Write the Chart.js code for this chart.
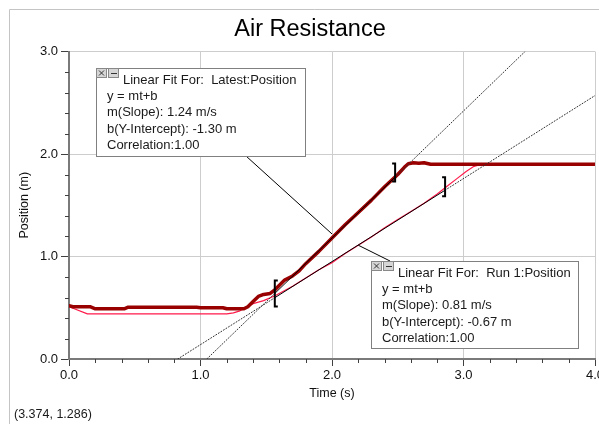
<!DOCTYPE html>
<html>
<head>
<meta charset="utf-8">
<script src="https://cdn.jsdelivr.net/npm/chart.js@4.4.1/dist/chart.umd.min.js"></script>
<style>
    html, body { margin: 0; padding: 0; background: #fff; overflow: hidden; }
    #graph { display: block; }
</style>
</head>
<body>
<canvas id="graph" width="620" height="424"></canvas>
<script>
// Latest run (dark red, thick)
const latestTime = [0.00, 0.03, 0.16, 0.20, 0.42, 0.45, 0.97, 1.00, 1.17, 1.20, 1.33, 1.36, 1.40, 1.44, 1.48, 1.53, 1.57, 1.60, 1.64, 1.70, 1.75, 1.80, 1.90, 2.00, 2.10, 2.20, 2.30, 2.40, 2.50, 2.55, 2.58, 2.62, 2.66, 2.70, 2.75, 3.00, 3.50, 4.00];
const latestPos = [0.52, 0.51, 0.51, 0.49, 0.49, 0.505, 0.505, 0.50, 0.50, 0.49, 0.49, 0.51, 0.56, 0.61, 0.63, 0.64, 0.68, 0.72, 0.77, 0.81, 0.86, 0.93, 1.05, 1.18, 1.31, 1.43, 1.55, 1.68, 1.80, 1.87, 1.905, 1.915, 1.91, 1.915, 1.90, 1.90, 1.90, 1.90];

// Run 1 (red, thin)
const runTime = [0.00, 0.14, 0.50, 1.00, 1.20, 1.25, 1.30, 1.34, 1.40, 1.48, 1.57, 1.70, 1.80, 1.90, 2.00, 2.10, 2.20, 2.30, 2.40, 2.50, 2.60, 2.70, 2.80, 2.87, 2.95, 3.02, 3.08, 3.14, 3.50, 4.00];
const runPos = [0.51, 0.44, 0.44, 0.44, 0.44, 0.45, 0.47, 0.50, 0.54, 0.57, 0.62, 0.71, 0.79, 0.87, 0.94, 1.03, 1.11, 1.19, 1.28, 1.36, 1.44, 1.52, 1.61, 1.68, 1.76, 1.83, 1.88, 1.90, 1.90, 1.90];

// Linear fit lines: start of dotted part, selection start, selection end, end of dotted part
const fitLatestTime = [1.048, 1.565, 2.48, 3.468];
const fitLatestPos = [0.0, 0.64, 1.775, 3.0];
const fitRunTime = [0.827, 1.565, 2.86, 4.0];
const fitRunPos = [0.0, 0.598, 1.647, 2.57];

const latestFitText = ['Linear Fit For:  Latest:Position', 'y = mt+b', 'm(Slope): 1.24 m/s', 'b(Y-Intercept): -1.30 m', 'Correlation:1.00'];
const runFitText = ['Linear Fit For:  Run 1:Position', 'y = mt+b', 'm(Slope): 0.81 m/s', 'b(Y-Intercept): -0.67 m', 'Correlation:1.00'];

const FONT = '"Liberation Sans", Arial, sans-serif';

function toPoints(xs, ys) {
    return xs.map((x, i) => ({ x: x, y: ys[i] }));
}

function isMajor(v) {
    return Math.abs(v - Math.round(v)) < 1e-6;
}

const latestSolid = toPoints(fitLatestTime.slice(1, 3), fitLatestPos.slice(1, 3));
const latestDotted = [
    { x: fitLatestTime[0], y: fitLatestPos[0] }, { x: fitLatestTime[1], y: fitLatestPos[1] },
    { x: fitLatestTime[1] + 0.001, y: null },
    { x: fitLatestTime[2], y: fitLatestPos[2] }, { x: fitLatestTime[3], y: fitLatestPos[3] }
];
const runSolid = toPoints(fitRunTime.slice(1, 3), fitRunPos.slice(1, 3));
const runDotted = [
    { x: fitRunTime[0], y: fitRunPos[0] }, { x: fitRunTime[1], y: fitRunPos[1] },
    { x: fitRunTime[1] + 0.001, y: null },
    { x: fitRunTime[2], y: fitRunPos[2] }, { x: fitRunTime[3], y: fitRunPos[3] }
];

function drawFitBox(ctx, x, y, w, h, lines) {
    ctx.save();
    ctx.fillStyle = '#ffffff';
    ctx.fillRect(x, y, w, h);
    ctx.strokeStyle = '#808080';
    ctx.lineWidth = 1;
    ctx.strokeRect(x + 0.5, y + 0.5, w, h);
    // close / minimise buttons
    ctx.fillStyle = '#d6d6d6';
    ctx.fillRect(x, y, 11, 10);
    ctx.fillRect(x + 12, y, 11, 10);
    ctx.strokeStyle = '#888';
    ctx.strokeRect(x + 0.5, y + 0.5, 10, 9);
    ctx.strokeRect(x + 12.5, y + 0.5, 10, 9);
    ctx.strokeStyle = '#333';
    ctx.beginPath();
    ctx.moveTo(x + 3, y + 2.5); ctx.lineTo(x + 8, y + 7.5);
    ctx.moveTo(x + 8, y + 2.5); ctx.lineTo(x + 3, y + 7.5);
    ctx.moveTo(x + 15, y + 5.5); ctx.lineTo(x + 21, y + 5.5);
    ctx.stroke();

    ctx.fillStyle = '#1a1a1a';
    ctx.font = '13px ' + FONT;
    ctx.textBaseline = 'middle';
    ctx.textAlign = 'left';
    ctx.fillText(lines[0], x + 27, y + 12);
    for (let i = 1; i < lines.length; i++) {
        ctx.fillText(lines[i], x + 11, y + 12 + i * 16.4);
    }
    ctx.restore();
}

function drawBracket(ctx, px, py, half, dir) {
    ctx.save();
    ctx.strokeStyle = '#000';
    ctx.lineWidth = 2;
    ctx.beginPath();
    ctx.moveTo(px + dir * 3, py - half);
    ctx.lineTo(px, py - half);
    ctx.lineTo(px, py + half);
    ctx.lineTo(px + dir * 3, py + half);
    ctx.stroke();
    ctx.restore();
}

const decorations = {
    id: 'decorations',
    afterDatasetsDraw(chart) {
        const ctx = chart.ctx;
        const xs = chart.scales.x;
        const ys = chart.scales.y;
        const area = chart.chartArea;

        // minor ticks
        ctx.save();
        ctx.strokeStyle = '#404040';
        ctx.lineWidth = 1;
        ctx.beginPath();
        xs.ticks.forEach(t => {
            if (isMajor(t.value)) return;
            const px = Math.round(xs.getPixelForValue(t.value)) + 0.5;
            ctx.moveTo(px, area.bottom);
            ctx.lineTo(px, area.bottom + 4);
        });
        ys.ticks.forEach(t => {
            if (isMajor(t.value)) return;
            const py = Math.round(ys.getPixelForValue(t.value)) + 0.5;
            ctx.moveTo(area.left - 4, py);
            ctx.lineTo(area.left, py);
        });
        ctx.stroke();
        ctx.restore();

        // selection brackets
        drawBracket(ctx, xs.getPixelForValue(fitLatestTime[1]), ys.getPixelForValue(0.64), 13, 1);
        drawBracket(ctx, xs.getPixelForValue(fitLatestTime[2]), ys.getPixelForValue(1.82), 9, -1);
        drawBracket(ctx, xs.getPixelForValue(fitRunTime[2]), ys.getPixelForValue(1.68), 9.5, -1);

        // leader lines from the fit boxes
        ctx.save();
        ctx.strokeStyle = '#000';
        ctx.lineWidth = 1;
        ctx.beginPath();
        ctx.moveTo(246, 156);
        ctx.lineTo(xs.getPixelForValue(2.0), ys.getPixelForValue(1.22));
        ctx.moveTo(xs.getPixelForValue(2.2), ys.getPixelForValue(1.11));
        ctx.lineTo(390, 261);
        ctx.stroke();
        ctx.restore();

        drawFitBox(ctx, 96, 68, 209, 88, latestFitText);
        drawFitBox(ctx, 371, 261, 207, 87, runFitText);
    },
    afterDraw(chart) {
        const ctx = chart.ctx;
        ctx.save();
        // window frame
        ctx.strokeStyle = '#c4c4c4';
        ctx.lineWidth = 1;
        ctx.beginPath();
        ctx.moveTo(9.5, 424);
        ctx.lineTo(9.5, 9.5);
        ctx.lineTo(620, 9.5);
        ctx.stroke();
        // title
        ctx.fillStyle = '#000';
        ctx.font = '23.5px ' + FONT;
        ctx.textAlign = 'center';
        ctx.textBaseline = 'middle';
        ctx.fillText('Air Resistance', 310, 30);
        // cursor readout
        ctx.fillStyle = '#1a1a1a';
        ctx.font = '12.5px ' + FONT;
        ctx.textAlign = 'left';
        ctx.fillText('(3.374, 1.286)', 14, 415);
        ctx.restore();
    }
};

const chart = new Chart(document.getElementById('graph'), {
    type: 'line',
    data: {
        datasets: [
            { label: 'Latest fit', data: latestSolid, borderColor: '#000000', borderWidth: 1 },
            { label: 'Run 1 fit', data: runSolid, borderColor: '#000000', borderWidth: 1 },
            { label: 'Latest fit ext', data: latestDotted, borderColor: '#303030', borderWidth: 1, borderDash: [1, 2], spanGaps: false },
            { label: 'Run 1 fit ext', data: runDotted, borderColor: '#303030', borderWidth: 1, borderDash: [1, 2], spanGaps: false },
            { label: 'Latest:Position', data: toPoints(latestTime, latestPos), borderColor: '#990000', borderWidth: 3.5 },
            { label: 'Run 1:Position', data: toPoints(runTime, runPos), borderColor: '#ff1a4a', borderWidth: 1.2 }
        ]
    },
    options: {
        responsive: false,
        animation: false,
        devicePixelRatio: 1,
        layout: {
            padding: { top: 51.5, right: 25, left: 0, bottom: 0 }
        },
        elements: {
            point: { radius: 0, hoverRadius: 0 },
            line: { tension: 0, fill: false, borderCapStyle: 'round', borderJoinStyle: 'round' }
        },
        plugins: {
            legend: { display: false },
            tooltip: { enabled: false },
            title: { display: false }
        },
        scales: {
            x: {
                type: 'linear',
                min: 0,
                max: 4,
                afterFit(scale) { scale.height = 65; },
                border: { color: '#7a7a7a', width: 2 },
                grid: {
                    color: ctx => isMajor(ctx.tick.value) ? '#cdcdcd' : 'transparent',
                    tickColor: ctx => isMajor(ctx.tick.value) ? '#404040' : 'transparent',
                    tickLength: 7
                },
                ticks: {
                    stepSize: 0.2,
                    autoSkip: false,
                    maxRotation: 0,
                    padding: 2,
                    color: '#111',
                    font: { family: FONT, size: 13 },
                    callback: v => isMajor(v) ? v.toFixed(1) : ''
                },
                title: {
                    display: true,
                    text: 'Time (s)',
                    color: '#111',
                    font: { family: FONT, size: 12.5 },
                    padding: { top: 0, bottom: 23 }
                }
            },
            y: {
                type: 'linear',
                min: 0,
                max: 3,
                afterFit(scale) { scale.width = 69; },
                border: { color: '#7a7a7a', width: 2 },
                grid: {
                    color: ctx => isMajor(ctx.tick.value) ? '#cdcdcd' : 'transparent',
                    tickColor: ctx => isMajor(ctx.tick.value) ? '#404040' : 'transparent',
                    tickLength: 8
                },
                ticks: {
                    stepSize: 0.2,
                    autoSkip: false,
                    padding: 3,
                    color: '#111',
                    font: { family: FONT, size: 13 },
                    callback: v => isMajor(v) ? v.toFixed(1) : ''
                },
                title: {
                    display: true,
                    text: 'Position (m)',
                    color: '#111',
                    font: { family: FONT, size: 12.5 },
                    padding: { top: 17, bottom: 0 }
                }
            }
        }
    },
    plugins: [decorations]
});
</script>
</body>
</html>
